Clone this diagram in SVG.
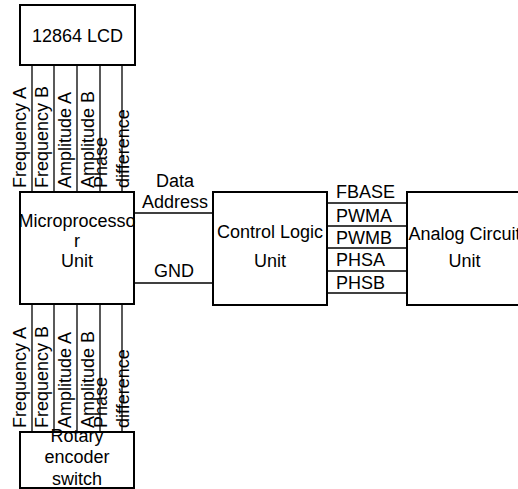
<svg xmlns="http://www.w3.org/2000/svg" width="518" height="489" viewBox="0 0 518 489">
<style>
.box{fill:#fff;stroke:#000;stroke-width:2}
.ln{stroke:#000;stroke-width:1.3;fill:none}
text{font-family:"Liberation Sans",Arial,sans-serif;font-size:18px;fill:#000}
.c{text-anchor:middle}
</style>
<rect width="518" height="489" fill="#fff"/>
<g id="connectors">
<line class="ln" x1="32" y1="65" x2="32" y2="192"/>
<line class="ln" x1="54" y1="65" x2="54" y2="192"/>
<line class="ln" x1="77" y1="65" x2="77" y2="192"/>
<line class="ln" x1="100" y1="65" x2="100" y2="192"/>
<line class="ln" x1="122" y1="65" x2="122" y2="192"/>
<line class="ln" x1="32" y1="304" x2="32" y2="432"/>
<line class="ln" x1="54" y1="304" x2="54" y2="432"/>
<line class="ln" x1="77" y1="304" x2="77" y2="432"/>
<line class="ln" x1="100" y1="304" x2="100" y2="432"/>
<line class="ln" x1="122" y1="304" x2="122" y2="432"/>
<line class="ln" x1="134" y1="213" x2="213" y2="213"/>
<line class="ln" x1="134" y1="283" x2="213" y2="283"/>
<line class="ln" x1="327" y1="203" x2="407" y2="203"/>
<line class="ln" x1="327" y1="226" x2="407" y2="226"/>
<line class="ln" x1="327" y1="248" x2="407" y2="248"/>
<line class="ln" x1="327" y1="271" x2="407" y2="271"/>
<line class="ln" x1="327" y1="293" x2="407" y2="293"/>
<g id="top-labels">
<text transform="translate(26,188) rotate(-90)">Frequency A</text>
<text transform="translate(48,188) rotate(-90)">Frequency B</text>
<text transform="translate(71,188) rotate(-90)">Amplitude A</text>
<text transform="translate(94,188) rotate(-90)">Amplitude B</text>
<text transform="translate(107,188) rotate(-90)">Phase</text>
<text transform="translate(129,188) rotate(-90)">difference</text>
</g>
<g id="bottom-labels">
<text transform="translate(26,428) rotate(-90)">Frequency A</text>
<text transform="translate(48,428) rotate(-90)">Frequency B</text>
<text transform="translate(71,428) rotate(-90)">Amplitude A</text>
<text transform="translate(94,428) rotate(-90)">Amplitude B</text>
<text transform="translate(107,428) rotate(-90)">Phase</text>
<text transform="translate(129,428) rotate(-90)">difference</text>
</g>
<text class="c" x="175" y="187">Data</text>
<text class="c" x="175" y="208">Address</text>
<text class="c" x="174" y="277">GND</text>
<text x="336" y="198">FBASE</text>
<text x="336" y="222">PWMA</text>
<text x="336" y="244">PWMB</text>
<text x="336" y="266">PHSA</text>
<text x="336" y="289">PHSB</text>
</g>
<g id="lcd">
<rect class="box" x="20" y="5" width="115" height="60"/>
<text class="c" x="77.5" y="42">12864 LCD</text>
</g>
<g id="mcu">
<rect class="box" x="20" y="192" width="114" height="112"/>
<text class="c" x="77" y="227">Microprocesso</text>
<text class="c" x="77" y="247">r</text>
<text class="c" x="77" y="267">Unit</text>
</g>
<g id="control">
<rect class="box" x="213" y="192" width="114" height="113"/>
<text class="c" x="270" y="238">Control Logic</text>
<text class="c" x="270" y="267">Unit</text>
</g>
<g id="analog">
<rect class="box" x="407" y="192" width="115" height="113"/>
<text class="c" x="464.5" y="240">Analog Circuit</text>
<text class="c" x="464.5" y="267">Unit</text>
</g>
<g id="rotary">
<rect class="box" x="20" y="432" width="114" height="56"/>
<text class="c" x="77" y="442">Rotary</text>
<text class="c" x="77" y="463">encoder</text>
<text class="c" x="77" y="485">switch</text>
</g>
</svg>
